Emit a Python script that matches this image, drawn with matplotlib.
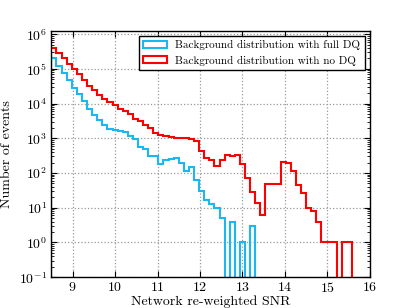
import numpy as np
import matplotlib
matplotlib.use('Agg')
import matplotlib.pyplot as plt

plt.rcParams['font.family'] = ['cmr10', 'DejaVu Serif']
plt.rcParams['mathtext.fontset'] = 'cm'
plt.rcParams['axes.formatter.use_mathtext'] = True
plt.rcParams['axes.unicode_minus'] = False

# histogram bins: 0.12 wide starting at 8.5
bin_start = 8.5
bin_width = 0.12

full_dq = [2.1e5, 1.23e5, 7.4e4, 4.7e4, 2.9e4, 1.86e4, 1.15e4, 7200, 4700, 3300,
           2400, 1860, 1740, 1620, 1550, 1200, 930, 575, 500, 316,
           310, 186, 240, 251, 269, 200, 112, 151, 63, 31,
           17, 13, 10, 5, 0, 4, 0, 1, 0, 3]

no_dq = [4.07e5, 2.95e5, 2.0e5, 1.35e5, 1.0e5, 6.9e4, 4.8e4, 3.3e4, 2.5e4, 1.82e4,
         1.38e4, 1.1e4, 9100, 7100, 6000, 4900, 3700, 3200, 2450, 1950,
         1450, 1230, 1200, 1100, 1020, 1000, 990, 980, 830, 420,
         263, 234, 162, 234, 331, 309, 331, 178, 74, 29,
         14, 6, 47, 47, 47, 209, 195, 115, 45, 27,
         10, 8, 4, 1, 1, 1, 0, 1, 1]

n_bins = 62
full_dq = np.array(full_dq + [0] * (n_bins - len(full_dq)), dtype=float)
no_dq = np.array(no_dq + [0] * (n_bins - len(no_dq)), dtype=float)
edges = bin_start + bin_width * np.arange(n_bins + 1)

fig = plt.figure(figsize=(4.11, 3.08), dpi=100)
ax = fig.add_axes([0.125, 0.1, 0.775, 0.8])
ax.set_yscale('log')

ax.hist(edges[:-1], bins=edges, weights=full_dq, histtype='step', log=True,
        color='#1ab8f0', linewidth=1.5, label='Background distribution with full DQ')
ax.hist(edges[:-1], bins=edges, weights=no_dq, histtype='step', log=True,
        color='#ff0000', linewidth=1.5, label='Background distribution with no DQ')

ax.set_xlim(8.5, 16)
ax.set_ylim(0.1, 1.25e6)
ax.set_xticks([9, 10, 11, 12, 13, 14, 15, 16])
ax.grid(True, color='#999999', linestyle=':', linewidth=0.9)
ax.tick_params(which='both', direction='in', top=True, right=True, labelsize=10)
ax.tick_params(which='major', length=4, pad=3)
ax.tick_params(which='minor', length=2)
for s in ax.spines.values():
    s.set_linewidth(1.0)

ax.set_xlabel('Network re-weighted SNR', fontsize=10, labelpad=0)
ax.set_ylabel('Number of events', fontsize=10)

leg = ax.legend(loc='upper right', fontsize=8, fancybox=False, framealpha=1,
                edgecolor='black', borderaxespad=0.45, borderpad=0.4,
                handlelength=2.1, handleheight=0.6, handletextpad=0.8)
leg.get_frame().set_linewidth(1.0)

fig.savefig('out.png', dpi=100)
